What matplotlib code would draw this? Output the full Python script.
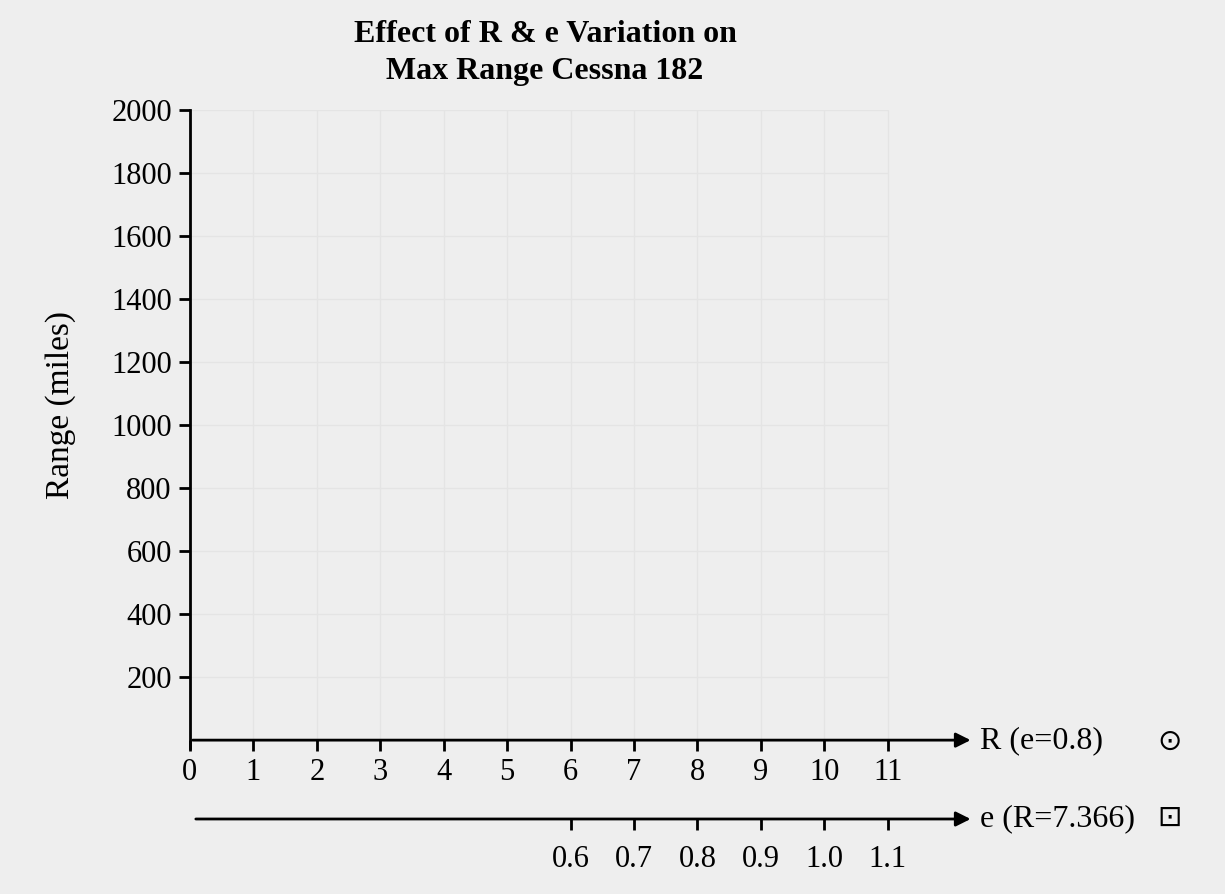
import matplotlib
matplotlib.use("Agg")
import matplotlib.pyplot as plt

# data: axis ticks only (empty chart)
r_ticks = [0, 1, 2, 3, 4, 5, 6, 7, 8, 9, 10, 11]
e_ticks = [0.6, 0.7, 0.8, 0.9, 1.0, 1.1]
e_labels = ["0.6", "0.7", "0.8", "0.9", "1.0", "1.1"]
y_ticks = [200, 400, 600, 800, 1000, 1200, 1400, 1600, 1800, 2000]

title = "Effect of R & e Variation on\nMax Range Cessna 182"
r_label = "R (e=0.8)"
e_label = "e (R=7.366)"

bg = "#eeeeee"
fam = ["Liberation Serif", "DejaVu Sans"]
plt.rcParams["font.family"] = fam

W, H = 1225, 894
fig = plt.figure(figsize=(W / 100, H / 100), dpi=100, facecolor=bg)
ax = fig.add_axes([0.155, 0.1633, 0.637, 0.7137], facecolor=bg)
ax.set_xlim(0, 12.3)
ax.set_ylim(-25, 2000)

# faint grid only over the 0..11 range
ax.vlines(r_ticks[1:], 0, 2000, color="#e4e4e4", lw=1, zorder=0)
ax.hlines(y_ticks, 0, 11, color="#e4e4e4", lw=1, zorder=0)

for s in ["top", "right"]:
    ax.spines[s].set_visible(False)
ax.spines["bottom"].set_position(("data", 0))
ax.spines["bottom"].set_visible(False)
ax.spines["left"].set_linewidth(2)
ax.annotate("", xy=(12.35, 0), xytext=(0, 0),
            arrowprops=dict(arrowstyle="-|>", lw=2, color="black", mutation_scale=22),
            annotation_clip=False)

ax.set_xticks(r_ticks)
ax.set_yticks(y_ticks)
ax.tick_params(axis="both", length=8, width=2, labelsize=22, pad=5)

fig.text(61 / W, 1 - 405 / H, "Range (miles)", fontsize=24, rotation=90,
         ha="center", va="center")

# second axis for e
ax2 = fig.add_axes([0.155, 1 - 819 / H, 0.637, 0.0001], facecolor="none")
ax2.set_xlim(0, 1.23)
for s in ["top", "right", "left", "bottom"]:
    ax2.spines[s].set_visible(False)
ax2.set_yticks([])
ax2.set_xticks(e_ticks)
ax2.set_xticklabels(e_labels)
ax2.tick_params(axis="x", length=8, width=2, labelsize=22, pad=11)
ax2.annotate("", xy=(1.235, 0), xytext=(0.005, 0), xycoords=("data", "axes fraction"),
             arrowprops=dict(arrowstyle="-|>", lw=2, color="black", mutation_scale=22),
             annotation_clip=False)

fig.text(980 / W, 1 - 741 / H, r_label, fontsize=23, va="center", ha="left")
fig.text(1170 / W, 1 - 742 / H, "\u2299", fontsize=21, va="center", ha="center", family=["DejaVu Sans"])
fig.text(980 / W, 1 - 819 / H, e_label, fontsize=23, va="center", ha="left")
fig.text(1170 / W, 1 - 818 / H, "\u22a1", fontsize=21, va="center", ha="center", family=["DejaVu Sans"])

fig.text(545 / W, 1 - 20 / H, title, fontsize=23, fontweight="bold", ha="center", va="top", linespacing=1.38)

fig.savefig("out.png", dpi=100, facecolor=bg)
